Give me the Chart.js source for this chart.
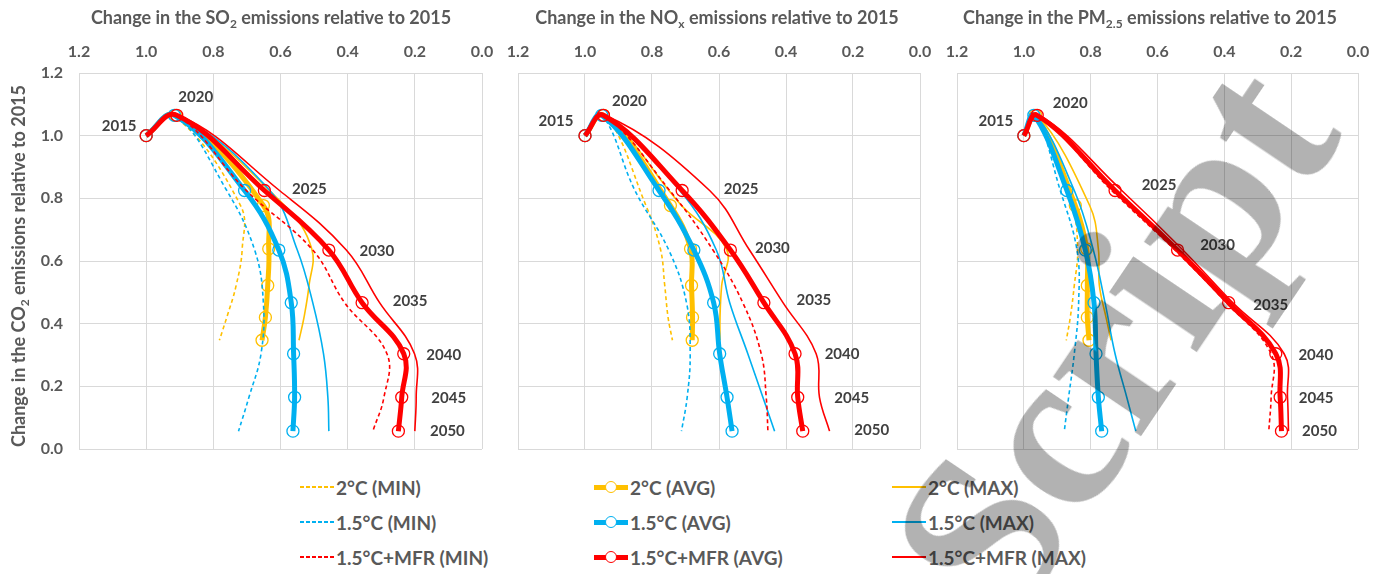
<!DOCTYPE html>
<html>
<head>
<meta charset="utf-8">
<script src="https://cdn.jsdelivr.net/npm/chart.js@4"></script>
<style>
body { margin: 0; background: #fff; width: 1383px; height: 574px; overflow: hidden; position: relative; font-family: Lato, sans-serif; }
canvas { position: absolute; top: 0; }
.title { position: absolute; top: 17px; transform: translate(-50%, -50%); font: bold 18px Lato; color: #595959; white-space: nowrap; }
.ytitle { position: absolute; left: 18px; top: 266px; transform: translate(-50%, -50%) rotate(-90deg); font: bold 18px Lato; color: #595959; white-space: nowrap; }
sub { font-size: 12px; vertical-align: -4px; line-height: 0; }
.leg { position: absolute; display: flex; align-items: center; height: 24px; font: bold 19px Lato; color: #595959; white-space: nowrap; }
.amostra { position: relative; width: 34px; margin-right: 2px; }
.amostra i { position: absolute; left: 11px; top: -4px; width: 12px; height: 12px; border-radius: 50%; border: 1.3px solid; box-sizing: border-box; }
#marca { position: absolute; left: 1113px; top: 340px; transform: translate(-50%, -50%) rotate(-56deg); font-family: "Liberation Serif", serif; font-weight: bold; font-size: 230px; line-height: 1; color: rgba(0,0,0,0.3); pointer-events: none; white-space: nowrap; }
</style>
</head>
<body>
<canvas id="g-so2" width="495" height="470" style="left:0px"></canvas>
<canvas id="g-nox" width="460" height="470" style="left:490px"></canvas>
<canvas id="g-pm" width="448" height="470" style="left:935px"></canvas>

<div class="title" style="left:271px">Change in the SO<sub>2</sub> emissions relative to 2015</div>
<div class="title" style="left:717px">Change in the NO<sub>x</sub> emissions relative to 2015</div>
<div class="title" style="left:1150px">Change in the PM<sub>2.5</sub> emissions relative to 2015</div>
<div class="ytitle">Change in the CO<sub>2</sub> emissions relative to 2015</div>
<div id="legenda"></div>
<div id="marca">Script</div>

<script>
const anos = [2015, 2020, 2025, 2030, 2035, 2040, 2045, 2050]
const eixoTicks = ['0.0', '0.2', '0.4', '0.6', '0.8', '1.0', '1.2']

// CO2 change (y) for each scenario
const co2_2C = [1.0, 1.065, 0.777, 0.639, 0.522, 0.42, 0.347]
const co2_15 = [1.0, 1.065, 0.825, 0.635, 0.467, 0.304, 0.165, 0.057]
const co2_mfr = [1.0, 1.065, 0.825, 0.635, 0.467, 0.304, 0.165, 0.057]

// SO2
const so2_2C_min = [1.0, 0.92, 0.719, 0.714, 0.732, 0.76, 0.782]
const so2_2C_avg = [1.0, 0.913, 0.651, 0.635, 0.638, 0.645, 0.655]
const so2_2C_max = [1.0, 0.91, 0.588, 0.507, 0.515, 0.53, 0.545]
const so2_15_min = [1.0, 0.915, 0.76, 0.677, 0.651, 0.658, 0.694, 0.725]
const so2_15_avg = [1.0, 0.916, 0.707, 0.605, 0.568, 0.561, 0.558, 0.563]
const so2_15_max = [1.0, 0.912, 0.632, 0.55, 0.504, 0.472, 0.459, 0.456]
const so2_mfr_min = [1.0, 0.912, 0.702, 0.504, 0.409, 0.283, 0.292, 0.325]
const so2_mfr_avg = [1.0, 0.909, 0.648, 0.456, 0.357, 0.233, 0.239, 0.249]
const so2_mfr_max = [1.0, 0.905, 0.603, 0.404, 0.305, 0.201, 0.196, 0.2]

// NOx
const nox_2C_min = [1.0, 0.94, 0.818, 0.775, 0.762, 0.752, 0.739]
const nox_2C_avg = [1.0, 0.945, 0.745, 0.685, 0.682, 0.679, 0.68]
const nox_2C_max = [1.0, 0.94, 0.712, 0.578, 0.592, 0.597, 0.597]
const nox_15_min = [1.0, 0.95, 0.851, 0.75, 0.697, 0.686, 0.695, 0.712]
const nox_15_avg = [1.0, 0.95, 0.779, 0.675, 0.616, 0.598, 0.576, 0.561]
const nox_15_max = [1.0, 0.945, 0.717, 0.608, 0.568, 0.514, 0.469, 0.434]
const nox_mfr_min = [1.0, 0.945, 0.747, 0.618, 0.529, 0.474, 0.459, 0.454]
const nox_mfr_avg = [1.0, 0.945, 0.71, 0.566, 0.466, 0.373, 0.365, 0.35]
const nox_mfr_max = [1.0, 0.94, 0.628, 0.509, 0.409, 0.31, 0.3, 0.27]

// PM2.5
const pm_2C_min = [1.0, 0.96, 0.856, 0.839, 0.849, 0.861, 0.873]
const pm_2C_avg = [1.0, 0.965, 0.846, 0.812, 0.81, 0.81, 0.805]
const pm_2C_max = [1.0, 0.96, 0.803, 0.777, 0.774, 0.754, 0.739]
const pm_15_min = [1.0, 0.965, 0.891, 0.841, 0.836, 0.849, 0.866, 0.879]
const pm_15_avg = [1.0, 0.97, 0.871, 0.816, 0.79, 0.784, 0.777, 0.767]
const pm_15_max = [1.0, 0.965, 0.849, 0.792, 0.757, 0.727, 0.692, 0.665]
const pm_mfr_min = [1.0, 0.96, 0.737, 0.548, 0.394, 0.26, 0.26, 0.267]
const pm_mfr_avg = [1.0, 0.96, 0.727, 0.54, 0.387, 0.246, 0.233, 0.229]
const pm_mfr_max = [1.0, 0.955, 0.707, 0.524, 0.375, 0.221, 0.211, 0.208]

const nomes = [
    '2°C (MIN)', '2°C (AVG)', '2°C (MAX)',
    '1.5°C (MIN)', '1.5°C (AVG)', '1.5°C (MAX)',
    '1.5°C+MFR (MIN)', '1.5°C+MFR (AVG)', '1.5°C+MFR (MAX)'
]
const cores = ['#FFC000', '#00B0F0', '#FF0000']
const tipos = ['min', 'avg', 'max']

function serie(nome, xs, ys, cor, tipo, ordem) {
    const s = {
        label: nome,
        data: xs.map((x, i) => ({ x: x, y: ys[i] })),
        borderColor: cor,
        backgroundColor: 'rgba(0,0,0,0)',
        showLine: true,
        tension: 0.4,
        order: ordem,
        pointRadius: 0,
        pointHoverRadius: 0,
        borderWidth: 1.6
    }
    if (tipo === 'min') {
        s.borderDash = [4, 3]
    }
    if (tipo === 'avg') {
        s.borderWidth = 5
        s.pointRadius = 6
        s.pointBorderWidth = 1.3
        s.pointBorderColor = cor
        s.pointBackgroundColor = 'rgba(0,0,0,0)'
    }
    return s
}

const rotulos = {
    id: 'rotulos',
    afterDatasetsDraw(chart, args, opts) {
        const meta = chart.getDatasetMeta(7)
        const ctx = chart.ctx
        ctx.save()
        ctx.font = 'bold 15px Lato'
        ctx.fillStyle = '#404040'
        ctx.textAlign = 'center'
        ctx.textBaseline = 'middle'
        meta.data.forEach((p, i) => {
            ctx.fillText(String(anos[i]), p.x + opts.dx[i], p.y + opts.dy[i])
        })
        ctx.restore()
    }
}

function criarPainel(id, series, larguraY, padDir, mostraY, dx, dy) {
    const ys = [co2_2C, co2_2C, co2_2C, co2_15, co2_15, co2_15, co2_mfr, co2_mfr, co2_mfr]
    const datasets = series.map((xs, i) => {
        const grupo = Math.floor(i / 3)
        return serie(nomes[i], xs, ys[i], cores[grupo], tipos[i % 3], 3 - grupo)
    })
    const fonte = { family: 'Lato', size: 16, weight: 'bold' }
    new Chart(document.getElementById(id), {
        type: 'scatter',
        data: { datasets: datasets },
        plugins: [rotulos],
        options: {
            responsive: false,
            animation: false,
            devicePixelRatio: 1,
            layout: { padding: { left: 0, right: padDir, top: 0, bottom: 21 } },
            plugins: {
                legend: { display: false },
                tooltip: { enabled: false },
                rotulos: { dx: dx, dy: dy }
            },
            scales: {
                x: {
                    type: 'linear',
                    position: 'top',
                    reverse: true,
                    min: 0,
                    max: 1.2,
                    afterBuildTicks: s => { s.ticks = eixoTicks.map(t => ({ value: Number(t) })) },
                    ticks: { padding: 12, color: '#595959', font: fonte, callback: v => Number(v).toFixed(1) },
                    grid: { color: '#d9d9d9', drawTicks: false },
                    border: { color: '#d9d9d9' },
                    afterFit: s => {
                        s.height = 73
                        s.paddingLeft = 0
                        s.paddingRight = 0
                    }
                },
                y: {
                    min: 0,
                    max: 1.2,
                    afterBuildTicks: s => { s.ticks = eixoTicks.map(t => ({ value: Number(t) })) },
                    ticks: { display: mostraY, padding: 16, color: '#595959', font: fonte, callback: v => Number(v).toFixed(1) },
                    grid: { color: '#d9d9d9', drawTicks: false },
                    border: { color: '#d9d9d9' },
                    afterFit: s => {
                        s.width = larguraY
                        s.paddingTop = 0
                        s.paddingBottom = 0
                    }
                }
            }
        }
    })
}

function criarLegenda() {
    const colunas = [300, 594, 892]
    const linhas = [487, 522, 557]
    let html = ''
    nomes.forEach((nome, i) => {
        const cor = cores[Math.floor(i / 3)]
        const tipo = tipos[i % 3]
        let amostra = ''
        if (tipo === 'min') {
            amostra = '<span class="amostra" style="height:2px;background:repeating-linear-gradient(90deg,' + cor + ' 0 4px,transparent 4px 6px)"></span>'
        } else if (tipo === 'avg') {
            amostra = '<span class="amostra" style="height:5px;background:' + cor + '"><i style="border-color:' + cor + ';background:#fff"></i></span>'
        } else {
            amostra = '<span class="amostra" style="height:2px;background:' + cor + '"></span>'
        }
        html += '<div class="leg" style="left:' + colunas[i % 3] + 'px;top:' + (linhas[Math.floor(i / 3)] - 12) + 'px">' + amostra + nome + '</div>'
    })
    document.getElementById('legenda').innerHTML = html
}

criarPainel('g-so2',
    [so2_2C_min, so2_2C_avg, so2_2C_max, so2_15_min, so2_15_avg, so2_15_max, so2_mfr_min, so2_mfr_avg, so2_mfr_max],
    79, 13, true,
    [-27, 19, 45, 48, 48, 40, 47, 49],
    [-10, -18, -1, 1, -2, 1, 1, 0])

criarPainel('g-nox',
    [nox_2C_min, nox_2C_avg, nox_2C_max, nox_15_min, nox_15_avg, nox_15_max, nox_mfr_min, nox_mfr_avg, nox_mfr_max],
    28, 30, false,
    [-29, 26, 59, 42, 50, 47, 54, 69],
    [-15, -14, -1, -2, -3, 0, 1, -1])

criarPainel('g-pm',
    [pm_2C_min, pm_2C_avg, pm_2C_max, pm_15_min, pm_15_avg, pm_15_max, pm_mfr_min, pm_mfr_avg, pm_mfr_max],
    22, 25, false,
    [-28, 33, 44, 40, 42, 40, 36, 38],
    [-15, -12, -5, -5, 2, 1, 1, 0])

criarLegenda()
</script>
</body>
</html>
